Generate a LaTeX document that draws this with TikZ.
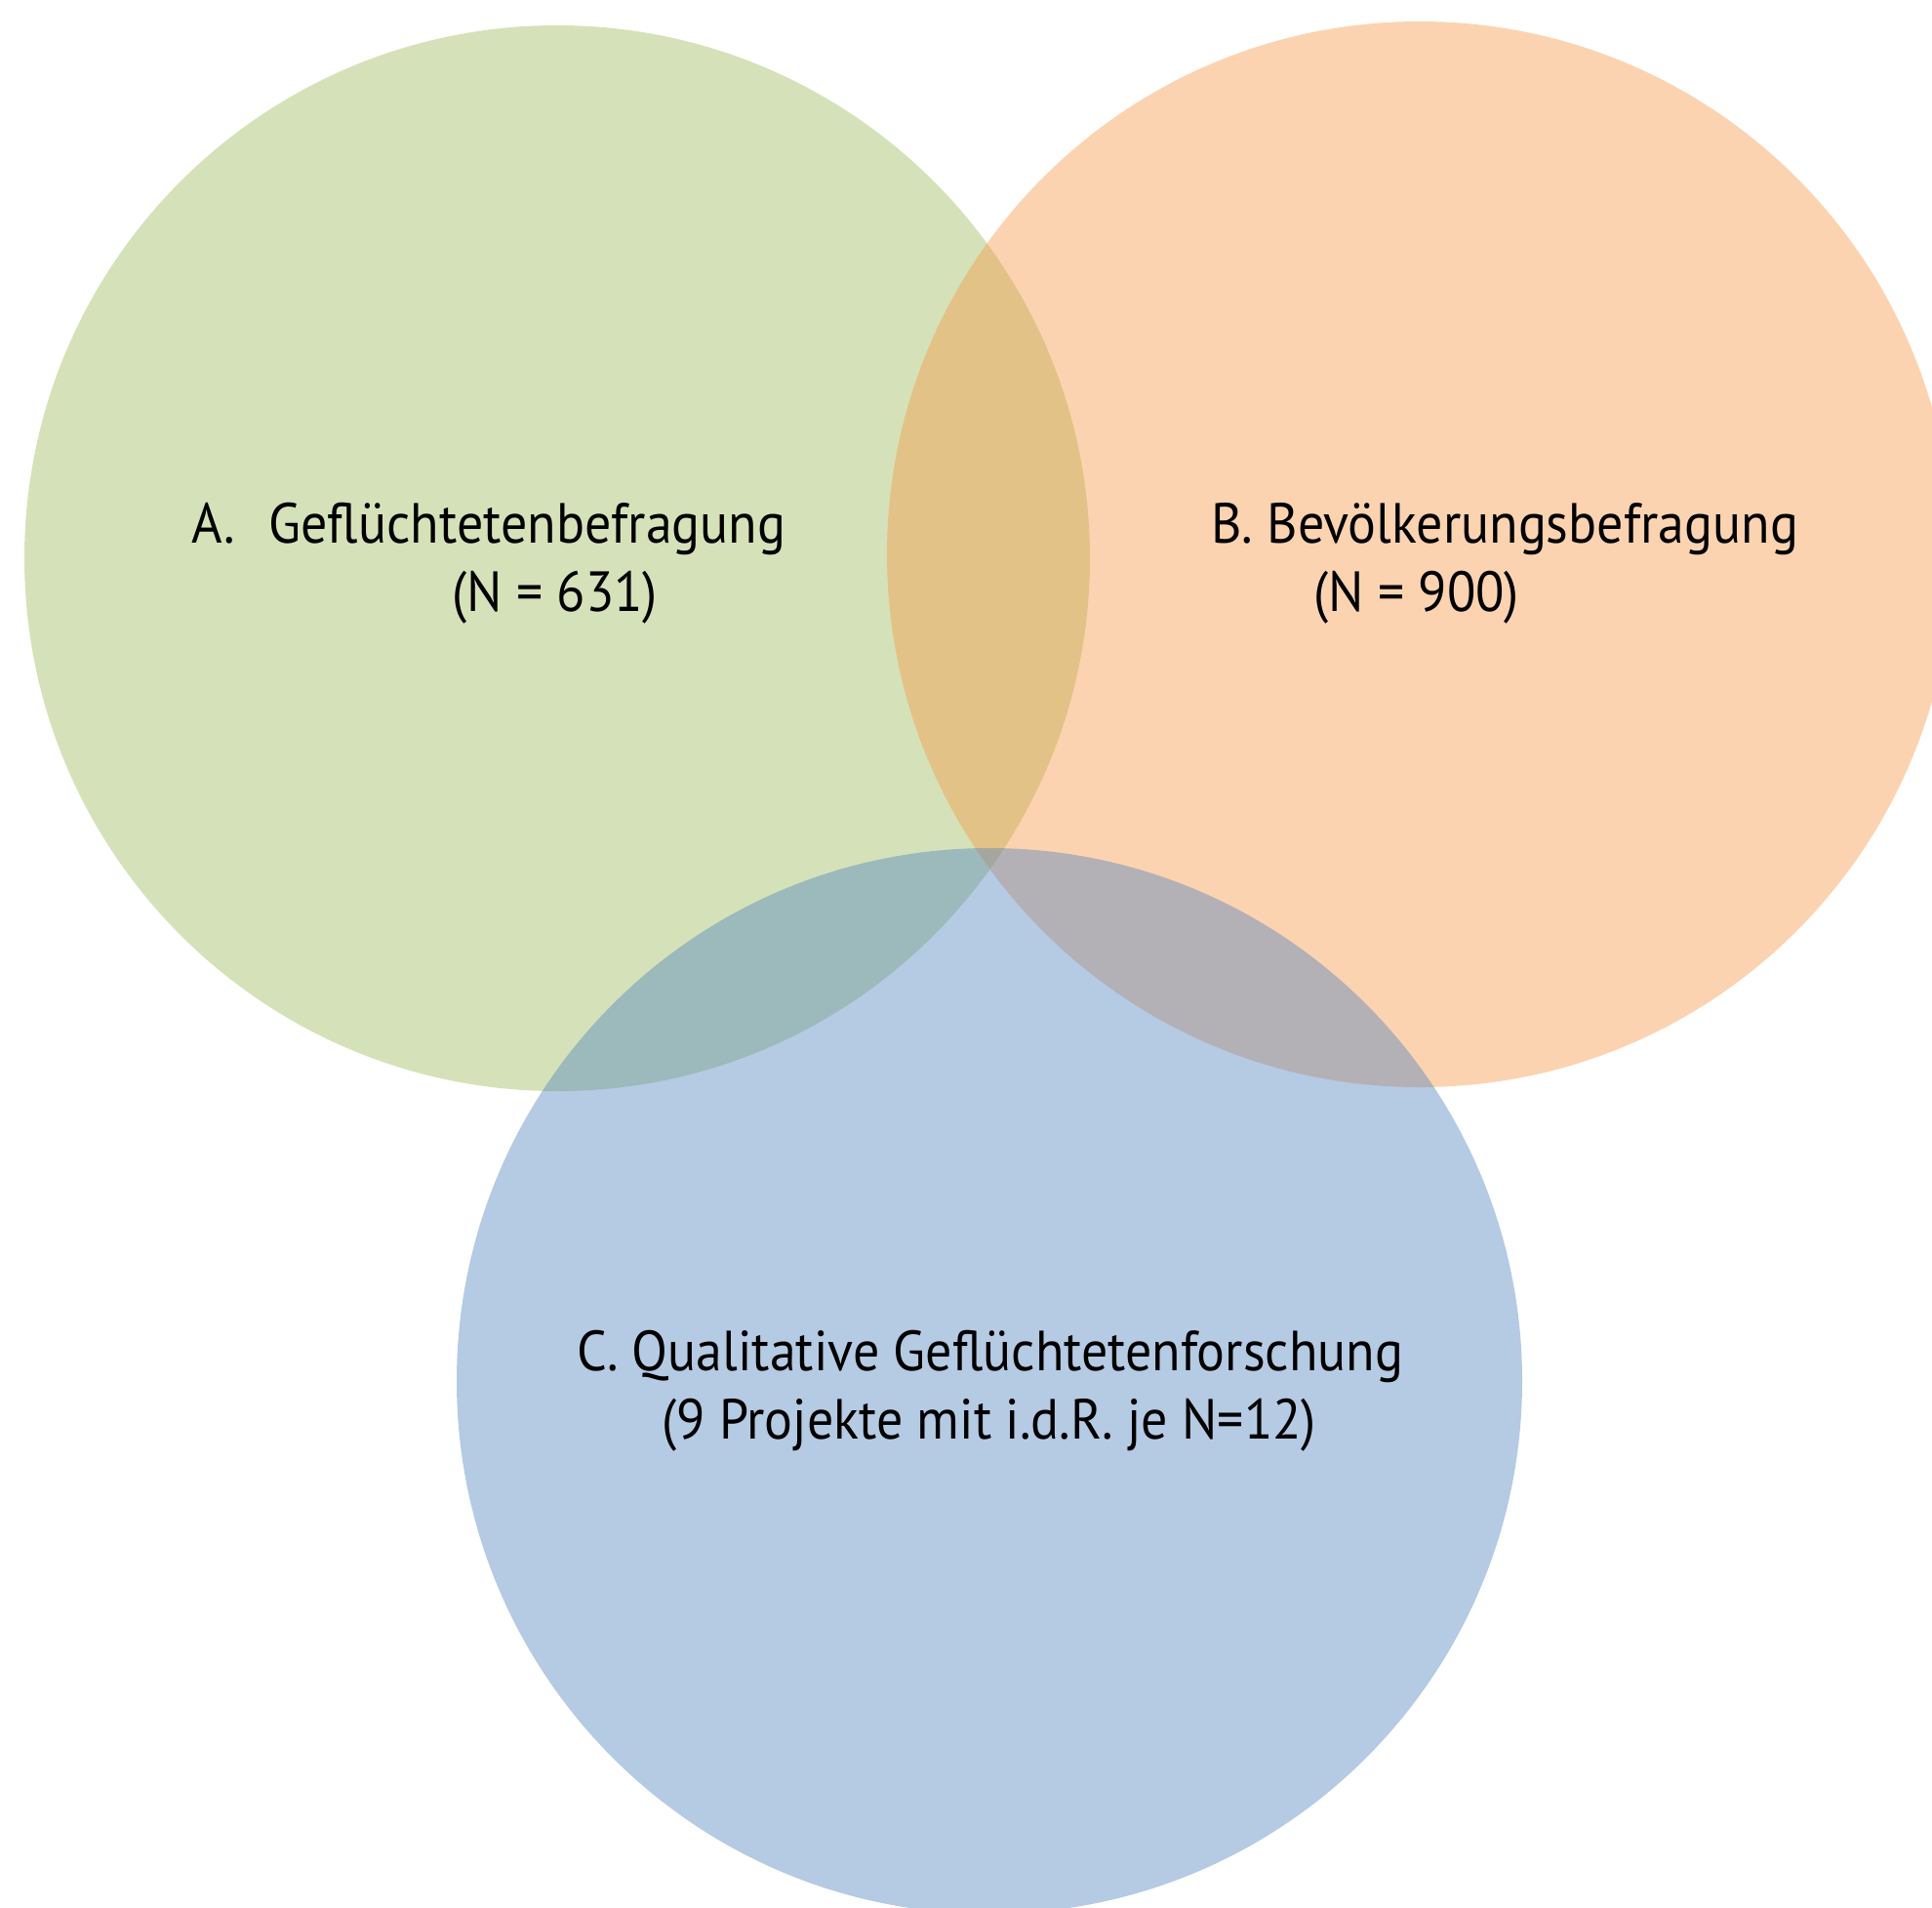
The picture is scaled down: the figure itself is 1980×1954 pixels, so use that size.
\documentclass[tikz,border=0pt]{standalone}
\usepackage{fontspec}
\setmainfont{PT Sans}[FakeStretch=0.93]
\definecolor{cgreen}{HTML}{9BBB59}
\definecolor{corange}{HTML}{F79646}
\definecolor{cblue}{HTML}{4F81BD}
\begin{document}
\begin{tikzpicture}[x=1pt,y=-1pt,
  setcircle/.style={fill opacity=0.42,draw=none},
  lbl/.style={font=\fontsize{58}{70}\selectfont,text=black,inner sep=0pt,anchor=base west}]
\useasboundingbox (0,0) rectangle (1980,1954);
\clip (0,0) rectangle (1980,1954);
\fill[setcircle,fill=cgreen] (571,572) circle[radius=546];
\fill[setcircle,fill=corange] (1455,568) circle[radius=546];
\fill[setcircle,fill=cblue] (1014,1415) circle[radius=546];
\node[lbl] (a1) at (196,556) {A.\hspace{0.6em}Geflüchtetenbefragung};
\node[lbl] (a2) at (463,626) {(N = 631)};
\node[lbl] (b1) at (1241,556) {B. Bevölkerungsbefragung};
\node[lbl] (b2) at (1346,626) {(N = 900)};
\node[lbl] (c1) at (591,1404) {C. Qualitative Geflüchtetenforschung};
\node[lbl] (c2) at (678,1474) {(9 Projekte mit i.d.R. je N=12)};
\end{tikzpicture}
\end{document}
